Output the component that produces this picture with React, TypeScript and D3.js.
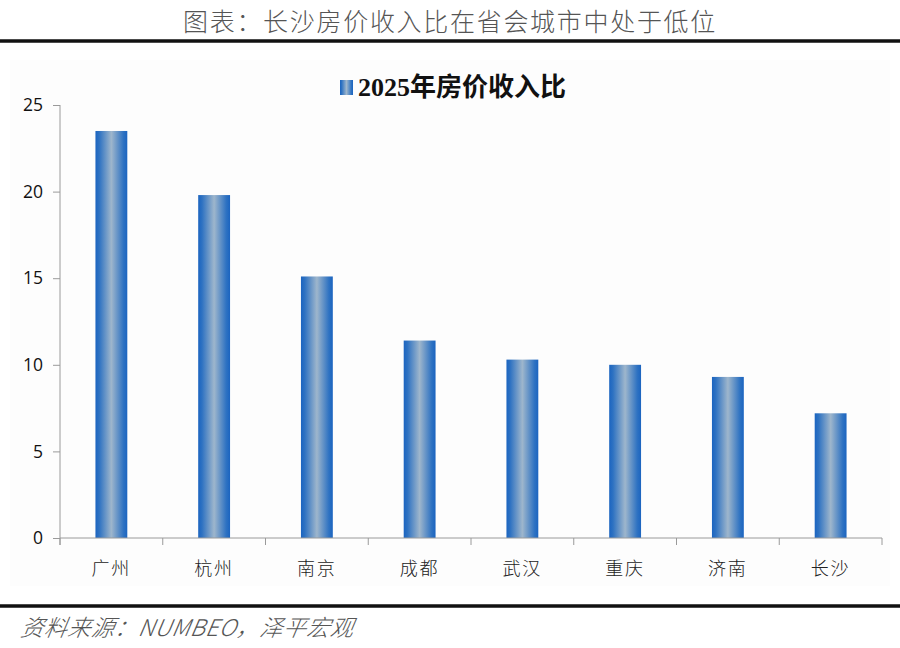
import { useEffect, useRef } from "react";
import * as d3 from "d3";

const cities = ["广州", "杭州", "南京", "成都", "武汉", "重庆", "济南", "长沙"];
const ratios = [23.5, 19.8, 15.1, 11.4, 10.3, 10.0, 9.3, 7.2];
const yTicks = [0, 5, 10, 15, 20, 25];
const seriesName = "2025年房价收入比";
const titleText = "图表：长沙房价收入比在省会城市中处于低位";
const sourceText = "资料来源：NUMBEO，泽平宏观";

const W = 900;
const H = 648;

const App = () => {
  const svgRef = useRef<SVGSVGElement | null>(null);

  useEffect(() => {
    const svg = d3.select(svgRef.current);
    svg.selectAll("*").remove();

    const margin = { top: 105, right: 18, bottom: 110, left: 60 };
    const innerWidth = W - margin.left - margin.right;
    const innerHeight = H - margin.top - margin.bottom;

    const defs = svg.append("defs");
    const grad = defs
      .append("linearGradient")
      .attr("id", "barGrad")
      .attr("x1", "0%")
      .attr("x2", "100%")
      .attr("y1", "0%")
      .attr("y2", "0%");
    grad.append("stop").attr("offset", "0%").attr("stop-color", "#1b64c0");
    grad.append("stop").attr("offset", "12%").attr("stop-color", "#2e72c2");
    grad.append("stop").attr("offset", "50%").attr("stop-color", "#9eb6cc");
    grad.append("stop").attr("offset", "88%").attr("stop-color", "#2e72c2");
    grad.append("stop").attr("offset", "100%").attr("stop-color", "#1b64c0");

    svg.append("rect").attr("width", W).attr("height", H).attr("fill", "#ffffff");

    // faint chart area background
    svg
      .append("rect")
      .attr("x", 10)
      .attr("y", 60)
      .attr("width", W - 20)
      .attr("height", 526)
      .attr("fill", "#fdfdfd");

    // page title
    svg
      .append("text")
      .attr("x", W / 2)
      .attr("y", 31)
      .attr("text-anchor", "middle")
      .attr("fill", "#555")
      .attr("font-family", "'Noto Sans CJK SC', sans-serif")
      .attr("font-weight", 300)
      .attr("font-size", 25)
      .attr("letter-spacing", 1.7)
      .text(titleText);

    svg
      .append("line")
      .attr("x1", 0)
      .attr("x2", W)
      .attr("y1", 41)
      .attr("y2", 41)
      .attr("stroke", "#111")
      .attr("stroke-width", 3.5);

    svg
      .append("line")
      .attr("x1", 0)
      .attr("x2", W)
      .attr("y1", 606)
      .attr("y2", 606)
      .attr("stroke", "#111")
      .attr("stroke-width", 3.5);

    svg
      .append("text")
      .attr("x", 20)
      .attr("y", 636)
      .attr("fill", "#555")
      .attr("font-family", "'Noto Sans CJK SC', sans-serif")
      .attr("font-style", "italic")
      .attr("font-weight", 300)
      .attr("font-size", 23)
      .attr("letter-spacing", 0.5)
      .attr("transform", "skewX(-10) translate(112,0)")
      .text(sourceText);

    // legend
    const legend = svg.append("g").attr("transform", "translate(340,80)");
    legend
      .append("rect")
      .attr("width", 13)
      .attr("height", 15)
      .attr("fill", "url(#barGrad)");
    legend
      .append("text")
      .attr("x", 18)
      .attr("y", 16)
      .attr("fill", "#111")
      .attr("font-family", "'Liberation Serif', 'Noto Sans CJK SC', serif")
      .attr("font-weight", "bold")
      .attr("font-size", 26)
      .text(seriesName);

    const g = svg
      .append("g")
      .attr("transform", `translate(${margin.left},${margin.top})`);

    const x = d3
      .scaleBand<string>()
      .domain(cities)
      .range([0, innerWidth])
      .paddingInner(0.69)
      .paddingOuter(0.345);

    const y = d3.scaleLinear().domain([0, 25]).range([innerHeight, 0]);

    // bars
    g.selectAll("rect.bar")
      .data(ratios)
      .enter()
      .append("rect")
      .attr("class", "bar")
      .attr("x", (_, i) => x(cities[i]) ?? 0)
      .attr("y", (d) => y(d))
      .attr("width", x.bandwidth())
      .attr("height", (d) => innerHeight - y(d))
      .attr("fill", "url(#barGrad)");

    // y axis
    const yAxis = d3
      .axisLeft(y)
      .tickValues(yTicks)
      .tickSize(7)
      .tickPadding(10)
      .tickSizeOuter(0);
    const yg = g.append("g").call(yAxis);
    yg.select(".domain").remove();
    yg.append("line")
      .attr("x1", 0)
      .attr("x2", 0)
      .attr("y1", 0)
      .attr("y2", innerHeight + 7)
      .attr("stroke", "#9a9a9a");
    yg.selectAll(".tick line").attr("stroke", "#9a9a9a");
    yg.selectAll("text")
      .attr("fill", "#111")
      .attr("font-family", "'Open Sans', 'Liberation Sans', sans-serif")
      .attr("font-size", 17.5);

    // x axis with ticks at category boundaries
    const xg = g.append("g").attr("transform", `translate(0,${innerHeight})`);
    xg.append("line")
      .attr("x1", 0)
      .attr("x2", innerWidth)
      .attr("stroke", "#9a9a9a");
    const bounds = d3.range(cities.length + 1).map((i) => i * (innerWidth / cities.length));
    xg.selectAll("line.bt")
      .data(bounds)
      .enter()
      .append("line")
      .attr("class", "bt")
      .attr("x1", (d) => d)
      .attr("x2", (d) => d)
      .attr("y1", 0)
      .attr("y2", 7)
      .attr("stroke", "#9a9a9a");
    xg.selectAll("text.cat")
      .data(cities)
      .enter()
      .append("text")
      .attr("class", "cat")
      .attr("x", (d) => (x(d) ?? 0) + x.bandwidth() / 2)
      .attr("y", 37)
      .attr("text-anchor", "middle")
      .attr("fill", "#222")
      .attr("font-family", "'Noto Sans CJK SC', sans-serif")
      .attr("font-weight", 300)
      .attr("font-size", 18)
      .attr("letter-spacing", 2)
      .text((d) => d);
  }, []);

  return (
    <svg
      ref={svgRef}
      width={W}
      height={H}
      style={{ position: "absolute", left: 0, top: 0 }}
      role="img"
      aria-label="2025年房价收入比"
    />
  );
};

export default App;
